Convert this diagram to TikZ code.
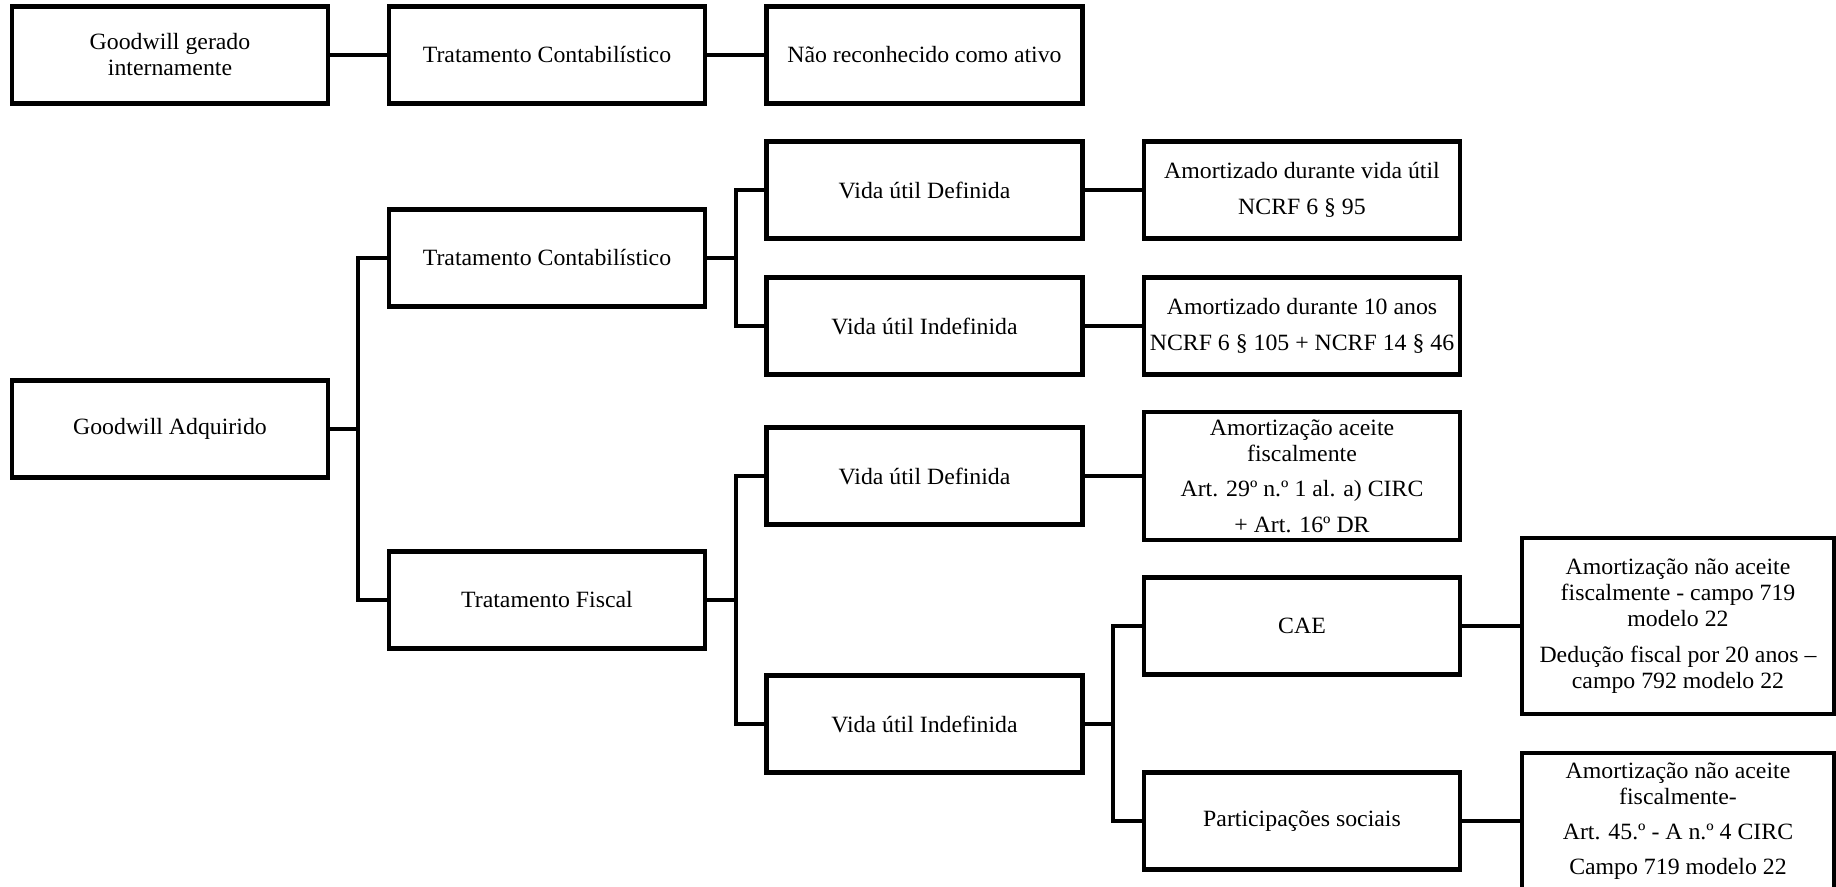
\documentclass[tikz,border=0pt]{standalone}
\usepackage{fontspec}
\setmainfont[FakeStretch=1.02]{Liberation Serif}
\begin{document}
\begin{tikzpicture}[x=0.75pt,y=-0.75pt,
  box/.style={draw, line width=3.4pt, minimum width=237pt, minimum height=72.75pt,
    align=center, inner xsep=0pt, inner ysep=2pt, font=\fontsize{17.5}{19.5}\selectfont},
  conn/.style={line width=3.4pt, line join=miter}]
\useasboundingbox (0,0) rectangle (1836,887);
% row 0
\node[box] (ga0) at (170,55) {Goodwill gerado\\internamente};
\node[box] (tc0) at (547,55) {Tratamento Contabilístico};
\node[box] (nr0) at (924.5,55) {Não reconhecido como ativo};
% main tree
\node[box] (ga) at (170,429) {Goodwill Adquirido};
\node[box] (tc) at (547,258) {Tratamento Contabilístico};
\node[box] (tf) at (547,600) {Tratamento Fiscal};
\node[box] (vd1) at (924.5,190) {Vida útil Definida};
\node[box] (vi1) at (924.5,326) {Vida útil Indefinida};
\node[box] (vd2) at (924.5,476) {Vida útil Definida};
\node[box] (vi2) at (924.5,724) {Vida útil Indefinida};
\node[box] (av) at (1302,190) {Amortizado durante vida útil\\[7pt]NCRF 6 § 95};
\node[box] (a10) at (1302,326) {Amortizado durante 10 anos\\[7pt]NCRF 6 § 105 + NCRF 14 § 46};
\node[box, minimum height=96pt] (aa) at (1302,476) {Amortização aceite\\fiscalmente\\[7pt]Art. 29º n.º 1 al. a) CIRC\\[7pt]+ Art. 16º DR};
\node[box] (cae) at (1302,626) {CAE};
\node[box] (ps) at (1302,821) {Participações sociais};
\node[box, minimum width=234pt, minimum height=132pt] (caer) at (1678,626) {Amortização não aceite\\fiscalmente - campo 719\\modelo 22\\[7pt]Dedução fiscal por 20 anos –\\campo 792 modelo 22};
\node[box, minimum width=234pt, minimum height=102pt] (psr) at (1678,821) {Amortização não aceite\\fiscalmente-\\[7pt]Art. 45.º - A n.º 4 CIRC\\[7pt]Campo 719 modelo 22};
% bus coordinates
\coordinate (b1) at (358,429);
\coordinate (b2) at (736,258);
\coordinate (b3) at (736,600);
\coordinate (b4) at (1113,724);
% connectors
\draw[conn] (ga0) -- (tc0);
\draw[conn] (tc0) -- (nr0);
\draw[conn] (ga.east) -- (b1);
\draw[conn] (tc.west) -| (b1) |- (tf.west);
\draw[conn] (tc.east) -- (b2);
\draw[conn] (vd1.west) -| (b2) |- (vi1.west);
\draw[conn] (tf.east) -- (b3);
\draw[conn] (vd2.west) -| (b3) |- (vi2.west);
\draw[conn] (vi2.east) -- (b4);
\draw[conn] (cae.west) -| (b4) |- (ps.west);
\draw[conn] (vd1) -- (av);
\draw[conn] (vi1) -- (a10);
\draw[conn] (vd2) -- (aa);
\draw[conn] (cae) -- (caer);
\draw[conn] (ps) -- (psr);
\end{tikzpicture}
\end{document}
